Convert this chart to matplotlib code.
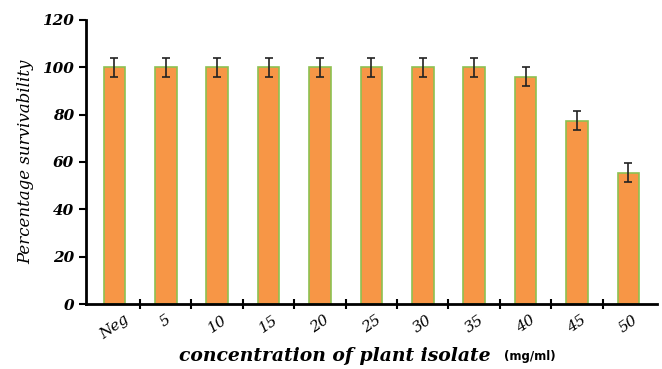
import numpy as np
import matplotlib.pyplot as plt

categories = ["Neg", "5", "10", "15", "20", "25", "30", "35", "40", "45", "50"]
survival = [100, 100, 100, 100, 100, 100, 100, 100, 96, 77.5, 55.5]
errors = [4, 4, 4, 4, 4, 4, 4, 4, 4, 4, 4]

fig = plt.figure(figsize=(6.62, 3.69), dpi=100)
ax = fig.add_axes([0.13, 0.176, 0.862, 0.77])

x = np.arange(len(categories))
ax.bar(x, survival, width=0.42, color="#F79646", edgecolor="#8DC152",
       linewidth=1.2, yerr=errors, capsize=3,
       error_kw=dict(ecolor="#222222", elinewidth=1.2, capthick=1.2))

ax.set_xlim(-0.55, len(categories) - 0.45)
ax.set_ylim(0, 120)
ax.set_yticks(range(0, 121, 20))

# category ticks between bars, labels at bar centres
ax.set_xticks(x[:-1] + 0.5)
ax.set_xticklabels([])
ax.set_xticks(x, minor=True)
ax.set_xticklabels(categories, minor=True, rotation=35, ha="center",
                   fontsize=11, family="DejaVu Serif", style="italic")
ax.tick_params(axis="x", which="minor", length=0, pad=6)
ax.tick_params(axis="x", which="major", direction="inout", length=7, width=1.5)
ax.tick_params(axis="y", direction="out", length=5, width=1.5)
for lab in ax.get_yticklabels():
    lab.set_fontfamily("DejaVu Serif")
    lab.set_fontstyle("italic")
    lab.set_fontweight("bold")
    lab.set_fontsize(11)

for side in ["top", "right"]:
    ax.spines[side].set_visible(False)
for side in ["left", "bottom"]:
    ax.spines[side].set_linewidth(2)

ax.set_ylabel("Percentage survivability", family="DejaVu Serif",
              style="italic", fontsize=12, labelpad=6)

fig.text(0.506, 0.022, "concentration of plant isolate", family="DejaVu Serif",
         style="italic", weight="bold", fontsize=13.5, ha="center")
fig.text(0.762, 0.024, "(mg/ml)", family="DejaVu Sans", weight="bold",
         fontsize=8.5, ha="left")

fig.savefig("out.png", dpi=100)
